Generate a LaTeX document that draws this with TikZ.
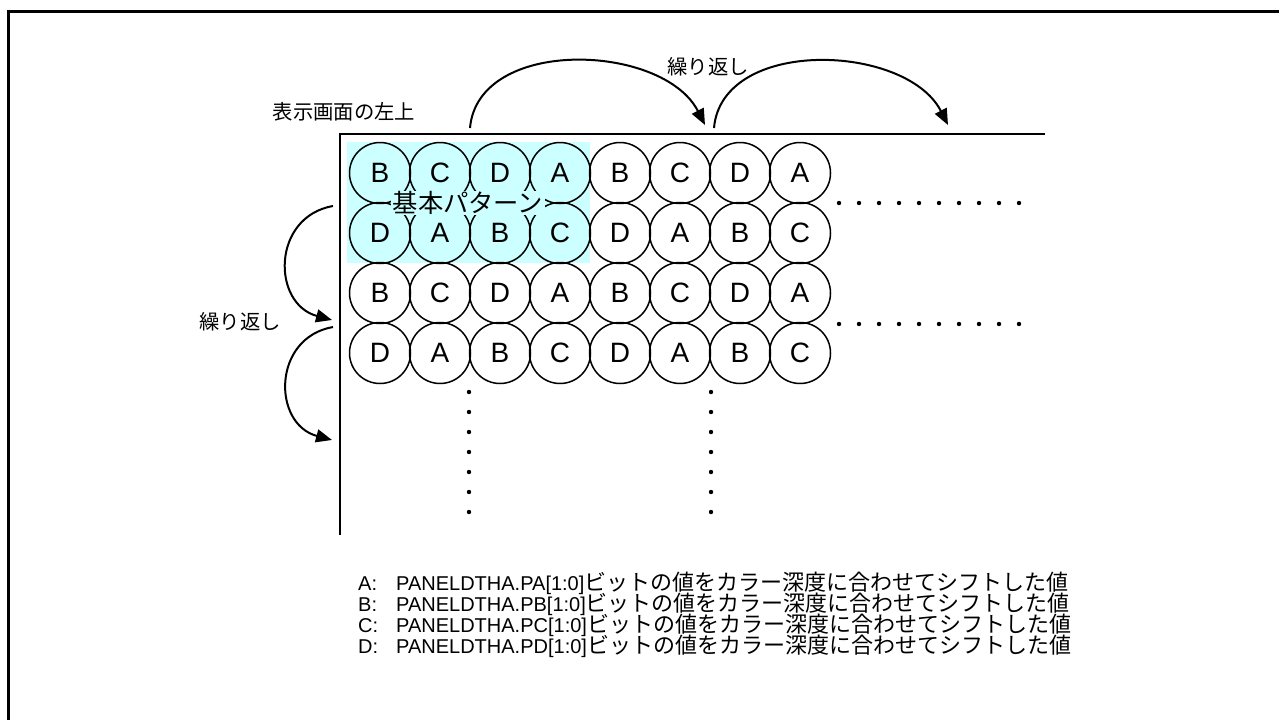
\documentclass[tikz,border=0pt]{standalone}
\usepackage{fontspec}
\setmainfont{Liberation Sans}
\newfontfamily\jp{Noto Sans CJK JP}[Scale=1.1]
\usetikzlibrary{arrows.meta,positioning}
\definecolor{patcyan}{RGB}{204,255,255}

\begin{document}
\begin{tikzpicture}[
  x=1pt, y=1pt,
  cell/.style={draw, circle, line width=1.5pt, minimum size=61pt, inner sep=0pt,
    font=\fontsize{28}{28}\selectfont},
  jlabel/.style={inner sep=0pt, font=\fontsize{18.5}{20}\selectfont\jp},
  legendline/.style={anchor=base west, inner sep=0pt, font=\fontsize{20}{21}\selectfont},
  repeatarrow/.style={-{Triangle[length=16pt,width=13pt]}, line width=2pt},
  axisline/.style={line width=2pt}
]
\useasboundingbox (0,0) rectangle (1279,-720);
\draw[line width=3pt] (8.5,-720) |- (1279,-11.5);

% basic pattern area
\fill[patcyan] (347,-142) rectangle (590,-263);

% cells
\foreach \lbl [count=\col] in {B,C,D,A,B,C,D,A}
  \foreach \row in {1,3}
    \node[cell] (c-\row-\col) at ({320+60*\col},{-113-60*\row}) {\lbl};
\foreach \lbl [count=\col] in {D,A,B,C,D,A,B,C}
  \foreach \row in {2,4}
    \node[cell] (c-\row-\col) at ({320+60*\col},{-113-60*\row}) {\lbl};

\node[jlabel, fill=patcyan, inner xsep=2pt, font=\fontsize{23}{24}\selectfont\jp] (basic) at (468,-203) {基本パターン};

% screen edges
\coordinate (corner) at (340,-134);
\coordinate (yend) at (340,-535);
\coordinate (xend) at (1045,-134);
\draw[axisline] (yend) -- (corner) -- (xend);

% continuation dots
\foreach \y in {203,324}
  \foreach \i in {0,...,9}
    \fill (839+20*\i,-\y) circle (2.2);
\foreach \x in {469,711}
  \foreach \i in {0,...,6}
    \fill (\x,-392-20*\i) circle (2.2);

% repeat arrows
\coordinate (t1s) at (470,-128);
\coordinate (t1e) at (705,-125);
\coordinate (t2s) at (714,-128);
\coordinate (t2e) at (948,-125);
\coordinate (l1s) at (333,-206);
\coordinate (l1e) at (332,-320);
\coordinate (l2s) at (333,-327);
\coordinate (l2e) at (332,-440);
\draw[repeatarrow] (t1s) to[out=85,in=117] (t1e);
\draw[repeatarrow] (t2s) to[out=85,in=117] (t2e);
\draw[repeatarrow] (l1s) to[out=190,in=165,looseness=1.4] (l1e);
\draw[repeatarrow] (l2s) to[out=190,in=165,looseness=1.4] (l2e);

\node[jlabel] (topleft) at (344,-112) {表示画面の左上};
\node[jlabel] (rep-h) at (708,-67) {繰り返し};
\node[jlabel] (rep-v) at (240,-322) {繰り返し};

% legend
\foreach \ch [count=\i] in {A,B,C,D}
  \node[legendline] (leg-\ch) at (358,{-590-21*(\i-1)})
    {\makebox[38pt][l]{\ch:}PANELDTHA.P\ch[1:0]{\jp ビットの値をカラー深度に合わせてシフトした値}};
\end{tikzpicture}
\end{document}
